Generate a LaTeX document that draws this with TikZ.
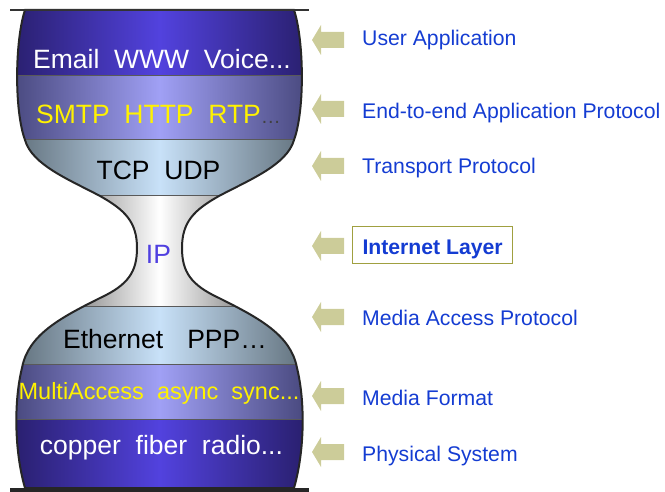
\documentclass[tikz,border=0pt]{standalone}
\usepackage{fontspec}
\setmainfont{Liberation Sans}

\definecolor{bandnavy}{RGB}{42,32,112}
\definecolor{bandblue}{RGB}{82,66,222}
\definecolor{bandslate}{RGB}{74,74,128}
\definecolor{bandlilac}{RGB}{160,160,245}
\definecolor{bandsteel}{RGB}{104,120,132}
\definecolor{bandsky}{RGB}{200,225,248}
\definecolor{neckgray}{RGB}{150,150,150}
\definecolor{labelblue}{RGB}{20,60,210}
\definecolor{arrowkhaki}{RGB}{204,204,153}
\definecolor{boxolive}{RGB}{160,160,64}
\definecolor{ipviolet}{RGB}{80,64,224}
\definecolor{dotgray}{RGB}{64,64,64}

\newcommand{\vaseoutline}{(25,10) .. controls (15,40) and (14,110) .. (25,140)
    .. controls (32,165) and (70,180) .. (100,196)
    .. controls (125,210) and (137,222) .. (137,248)
    .. controls (137,272) and (128,285) .. (100,298)
    .. controls (60,318) and (28,335) .. (22,368)
    .. controls (14,400) and (14,450) .. (25,488)
    -- (294,488)
    .. controls (305,450) and (305,400) .. (297,368)
    .. controls (291,335) and (259,318) .. (219,298)
    .. controls (191,285) and (182,272) .. (182,248)
    .. controls (182,222) and (194,210) .. (219,196)
    .. controls (249,180) and (287,165) .. (294,140)
    .. controls (305,110) and (304,40) .. (294,10) -- cycle}

\begin{document}
\begin{tikzpicture}[x=1pt, y=-1pt,
    bandtext/.style={anchor=base, inner sep=0pt, font=\fontsize{26.5}{30}\selectfont},
    layername/.style={anchor=base west, inner sep=0pt, text=labelblue, font=\fontsize{21.2}{25}\selectfont},
    bandline/.style={draw=black!65, line width=1pt}]
    \useasboundingbox (0,0) rectangle (665,492);

    \begin{scope}
        \clip \vaseoutline;
        \shade[left color=bandnavy, right color=bandnavy, middle color=bandblue] (14,8) rectangle (305,76);
        \shade[left color=bandslate, right color=bandslate, middle color=bandlilac] (14,76) rectangle (305,140);
        \shade[left color=bandsteel, right color=bandsteel, middle color=bandsky] (24,140) rectangle (295,196);
        \shade[left color=neckgray, right color=neckgray, middle color=white] (83,196) rectangle (236,307);
        \shade[left color=bandsteel, right color=bandsteel, middle color=bandsky] (24,307) rectangle (295,364);
        \shade[left color=bandslate, right color=bandslate, middle color=bandlilac] (16,364) rectangle (303,419);
        \shade[left color=bandnavy, right color=bandnavy, middle color=bandblue] (16,419) rectangle (303,492);
        \foreach \y in {76,140,196,307,364,419}
            \draw[bandline] (0,\y) -- (320,\y);
    \end{scope}
    \draw[line width=2pt, black!85] \vaseoutline;
    \draw[line width=2pt, black!80] (10,10) -- (309,10);
    \draw[line width=4pt, black!85] (10,490) -- (309,490);

    \node[bandtext, text=white] (app) at (162,68.3) {Email~~WWW~~Voice...};
    \node[bandtext, text=yellow] (proto) at (158.5,123.3) {SMTP~~HTTP~~RTP{\color{dotgray}\fontsize{20}{24}\selectfont…}};
    \node[bandtext, text=black] (trans) at (158.5,180) {TCP~~UDP};
    \node[bandtext, text=ipviolet] (ip) at (158.5,263.3) {IP};
    \node[bandtext, text=black] (mac) at (165,348.3) {Ethernet\hspace{24pt}PPP…};
    \node[bandtext, text=yellow, font=\fontsize{23.5}{28}\selectfont] (fmt) at (159,399) {MultiAccess~~async~~sync...};
    \node[bandtext, text=white] (phys) at (161.5,454) {copper~~fiber~~radio...};

    \foreach \y in {40,109,166,246,317,396,452}
        \fill[arrowkhaki] (312,\y) -- ++(9,-15) -- ++(0,7) -- ++(23,0) -- ++(0,16)
            -- ++(-23,0) -- ++(0,7) -- cycle;

    \node[layername] (user) at (362,45.7) {User Application};
    \node[layername] (e2e) at (362,118.3) {End-to-end Application Protocol};
    \node[layername] (transport) at (362,174) {Transport Protocol};
    \node[draw=boxolive, line width=1pt, anchor=west, inner xsep=10pt, minimum height=37pt,
        text height=18pt, text depth=0pt, text=labelblue, font=\bfseries\fontsize{21.2}{25}\selectfont]
        (internet) at (352,245.5) {Internet Layer};
    \node[layername] (access) at (362,325.7) {Media Access Protocol};
    \node[layername] (format) at (362,405.7) {Media Format};
    \node[layername] (physical) at (362,461.7) {Physical System};
\end{tikzpicture}
\end{document}
